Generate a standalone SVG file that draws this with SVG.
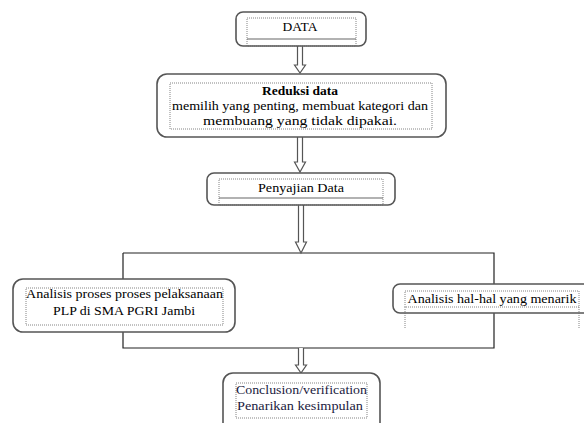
<svg xmlns="http://www.w3.org/2000/svg" width="584" height="423" viewBox="0 0 584 423">
<style>
.box{fill:#fff;stroke:#555;stroke-width:1.6}
.inner{fill:none;stroke:#666;stroke-width:0.8;stroke-dasharray:1 1}
.sep{stroke:#666;stroke-width:1.2}
.t{font-family:"Liberation Serif","DejaVu Serif",serif;font-size:13.5px;fill:#000;text-anchor:middle}
.b{font-weight:bold}
.arr{fill:#fff;stroke:#555;stroke-width:1.2}
.line{fill:none;stroke:#222;stroke-width:1.2}
</style>
<rect width="584" height="423" fill="#fff"/>
<g id="connectors">
<polyline class="line" points="123,253 494,253 494,348 123,348 123,253"/>
<path class="arr" d="M297.5,46 L297.5,65 L294.5,65 L300,73 L305.5,65 L302.5,65 L302.5,46"/>
<path class="arr" d="M297.5,137 L297.5,162 L294.5,162 L300,172 L305.5,162 L302.5,162 L302.5,137"/>
<path class="arr" d="M298.5,205 L298.5,242 L295.5,242 L301,253 L306.5,242 L303.5,242 L303.5,205"/>
<path class="arr" d="M298.5,348 L298.5,365 L295.5,365 L301,373 L306.5,365 L303.5,365 L303.5,348"/>
</g>
<g id="data">
<rect class="box" x="236" y="12" width="130" height="34" rx="7"/>
<rect class="inner" x="247" y="18" width="109" height="28"/>
<line class="sep" x1="247" y1="39" x2="356" y2="39"/>
<text class="t" x="300" y="31">DATA</text>
</g>
<g id="reduksi">
<rect class="box" x="157" y="74" width="289" height="63" rx="10"/>
<rect class="inner" x="170" y="83" width="262" height="46"/>
<text class="t b" x="300" y="95">Reduksi  data</text>
<text class="t" x="300" y="110" textLength="256" lengthAdjust="spacingAndGlyphs">memilih yang penting, membuat kategori dan</text>
<text class="t" x="300" y="125" textLength="194" lengthAdjust="spacingAndGlyphs">membuang yang tidak dipakai.</text>
</g>
<g id="penyajian">
<rect class="box" x="207" y="173" width="188" height="32" rx="7"/>
<rect class="inner" x="219" y="179" width="164" height="26"/>
<line class="sep" x1="219" y1="198" x2="383" y2="198"/>
<text class="t" x="301" y="192" textLength="86" lengthAdjust="spacingAndGlyphs">Penyajian Data</text>
</g>
<g id="analisis-plp">
<rect class="box" x="13" y="279" width="222" height="53" rx="10"/>
<rect class="inner" x="26" y="288" width="197" height="37"/>
<text class="t" x="124.5" y="298" textLength="197" lengthAdjust="spacingAndGlyphs">Analisis proses proses pelaksanaan</text>
<text class="t" x="124" y="315" textLength="142" lengthAdjust="spacingAndGlyphs">PLP di SMA PGRI Jambi</text>
</g>
<g id="analisis-menarik">
<rect class="box" x="393" y="284" width="200" height="29" rx="7"/>
<rect class="inner" x="405" y="291" width="174" height="16"/>
<line class="inner" x1="405" y1="307" x2="405" y2="328"/>
<line class="inner" x1="579" y1="307" x2="579" y2="328"/>
<text class="t" x="492" y="303" textLength="169" lengthAdjust="spacingAndGlyphs">Analisis  hal-hal yang menarik</text>
</g>
<g id="conclusion">
<rect class="box" x="223" y="373" width="157" height="60" rx="10"/>
<rect class="inner" x="236" y="383" width="131" height="35"/>
<text class="t" x="236" y="394" style="text-anchor:start;fill:#1a1a40" textLength="131" lengthAdjust="spacingAndGlyphs">Conclusion/verification</text>
<text class="t" x="237" y="410" style="text-anchor:start;fill:#1a1a40" textLength="126" lengthAdjust="spacingAndGlyphs">Penarikan kesimpulan</text>
</g>
</svg>
